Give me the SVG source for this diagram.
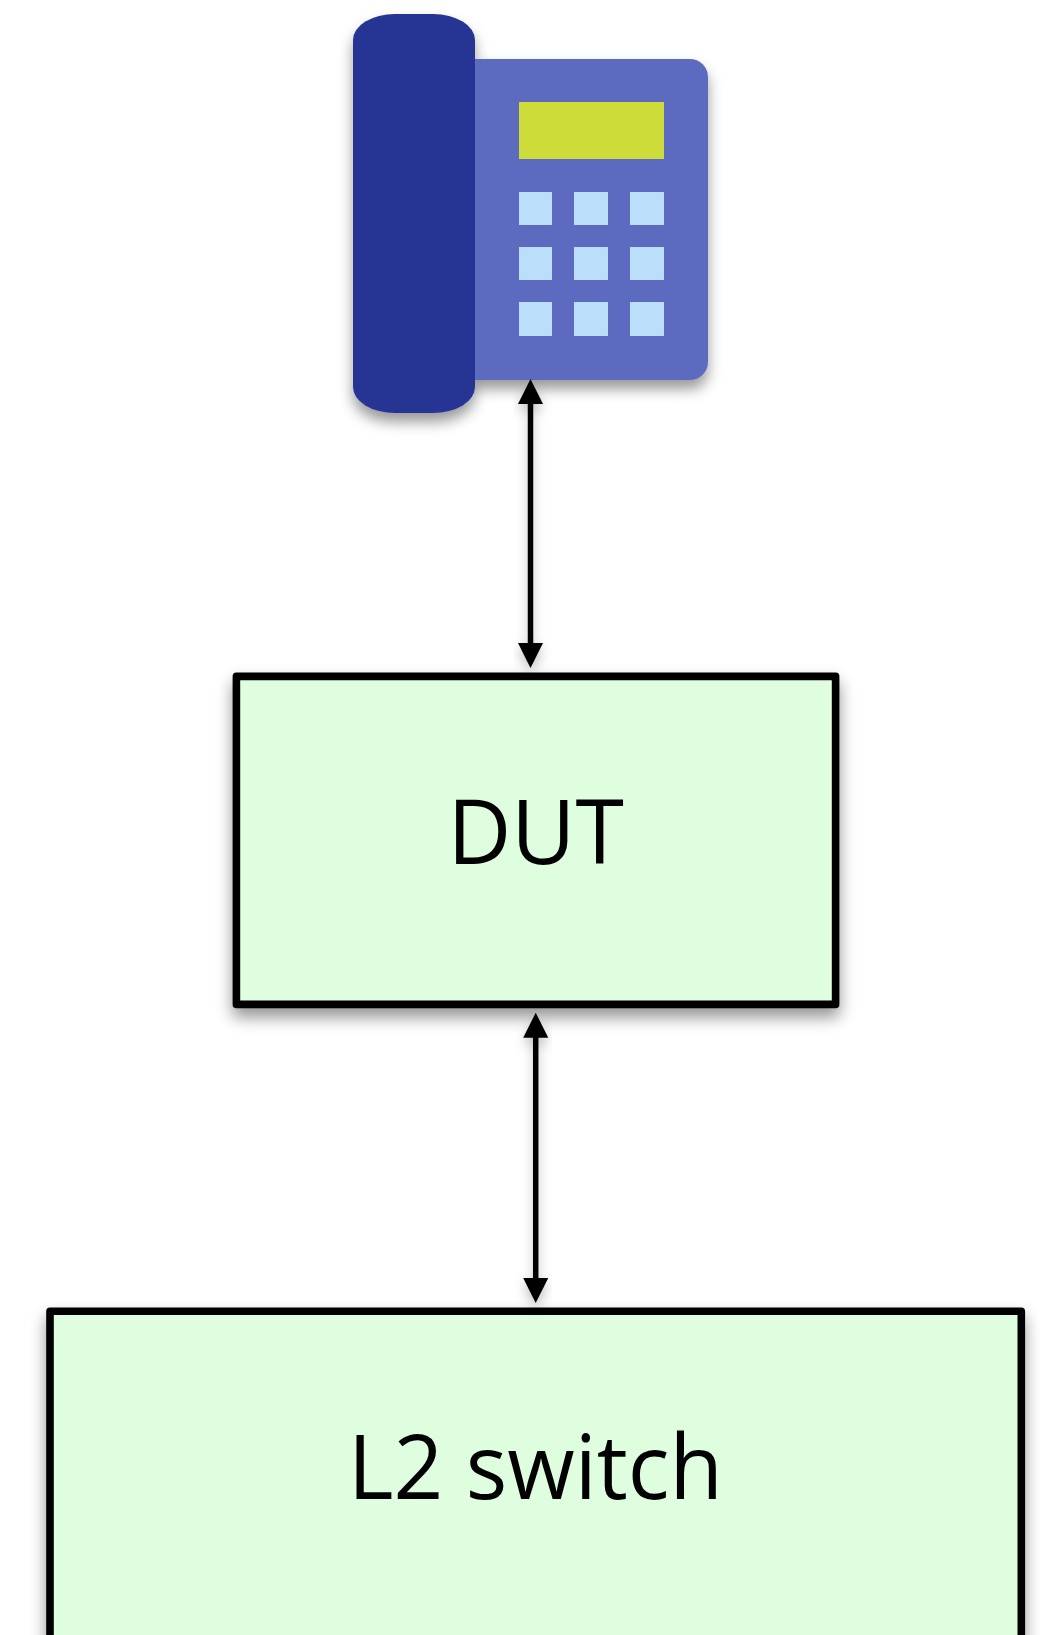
<svg xmlns="http://www.w3.org/2000/svg" width="1040" height="1635" viewBox="0 0 1040 1635">
<defs>
<filter id="sh" x="-20%" y="-20%" width="140%" height="140%"><feDropShadow dx="0" dy="9" stdDeviation="8" flood-color="#000" flood-opacity="0.42"/></filter>
<filter id="shp" x="-20%" y="-20%" width="140%" height="140%"><feGaussianBlur in="SourceGraphic" stdDeviation="0.6" result="b"/><feDropShadow in="b" dx="0" dy="9" stdDeviation="7" flood-color="#000" flood-opacity="0.4"/></filter>
<filter id="sha" x="-300%" y="-10%" width="700%" height="120%"><feDropShadow dx="0" dy="6" stdDeviation="6" flood-color="#000" flood-opacity="0.25"/></filter>
<marker id="ah" viewBox="0 0 25 25" refX="19" refY="12.5" markerWidth="25" markerHeight="25" markerUnits="userSpaceOnUse" orient="auto-start-reverse"><path d="M0 0L25 12.5L0 25Z" fill="#000"/></marker>
</defs>
<style>
.box{fill:#dffddf;stroke:#000;stroke-width:7.6;stroke-linejoin:round}
.lbl{font-family:"Open Sans","Noto Sans",sans-serif;font-size:90px;fill:#000}
.conn{stroke:#000;stroke-width:5.5;fill:none;marker-start:url(#ah);marker-end:url(#ah)}
.key{fill:#bbdefb}
</style>
<rect width="1040" height="1635" fill="#fff"/>
<g id="phone" filter="url(#shp)">
<rect x="440" y="59" width="268" height="321" rx="18" fill="#5c6bc0"/>
<rect x="353" y="14" width="122" height="399" rx="42" ry="26" fill="#283593"/>
<rect x="519" y="102" width="145" height="57" fill="#cddc39"/>
<rect class="key" x="519" y="192" width="33" height="33"/><rect class="key" x="574" y="192" width="34" height="33"/><rect class="key" x="630" y="192" width="34" height="33"/>
<rect class="key" x="519" y="247" width="33" height="33"/><rect class="key" x="574" y="247" width="34" height="33"/><rect class="key" x="630" y="247" width="34" height="33"/>
<rect class="key" x="519" y="302" width="33" height="34"/><rect class="key" x="574" y="302" width="34" height="34"/><rect class="key" x="630" y="302" width="34" height="34"/>
</g>
<g id="dut">
<rect class="box" x="236.4" y="676.4" width="599.2" height="328" filter="url(#sh)"/>
<text class="lbl" x="447.5" y="864" textLength="176.5" lengthAdjust="spacingAndGlyphs">DUT</text>
</g>
<g id="l2switch">
<rect class="box" x="50" y="1311.3" width="971.3" height="360" filter="url(#sh)"/>
<text class="lbl" x="348" y="1499" textLength="375" lengthAdjust="spacingAndGlyphs">L2 switch</text>
</g>
<g id="connectors" filter="url(#sha)">
<line class="conn" x1="530.5" y1="385" x2="530.5" y2="662"/>
<line class="conn" x1="535.7" y1="1018.7" x2="535.7" y2="1297"/>
</g>
</svg>
